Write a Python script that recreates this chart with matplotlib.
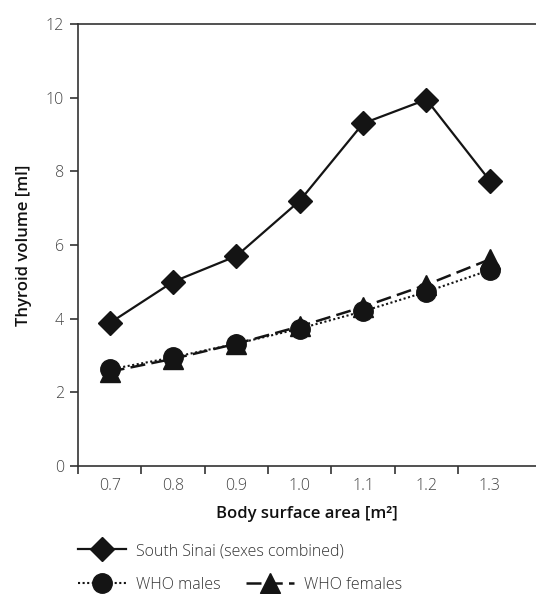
import matplotlib
matplotlib.use("Agg")
import matplotlib.pyplot as plt
from matplotlib.lines import Line2D

categories = ["0.7", "0.8", "0.9", "1.0", "1.1", "1.2", "1.3"]
south_sinai = [3.88, 5.0, 5.7, 7.2, 9.3, 9.95, 7.75]
who_males = [2.62, 2.95, 3.32, 3.73, 4.20, 4.73, 5.32]
who_females = [2.56, 2.91, 3.32, 3.79, 4.32, 4.92, 5.61]
y_ticks = [0, 2, 4, 6, 8, 10, 12]

plt.rcParams['font.family'] = ['Open Sans', 'DejaVu Sans']

W, H = 536, 594
fig = plt.figure(figsize=(W / 100, H / 100), dpi=100)
ax = fig.add_axes([78 / W, (H - 466) / H, 1 - 78 / W, (466 - 24) / H])

x = list(range(len(categories)))
ink = '#141414'
ax.plot(x, south_sinai, color=ink, lw=1.6, ls='-', marker='D', ms=12.5, zorder=3)
ax.plot(x, who_males, color=ink, lw=1.5, ls=(0, (1, 1.2)), marker='o', ms=14, zorder=3)
ax.plot(x, who_females, color=ink, lw=1.8, ls=(0, (6, 2.5)), marker='^', ms=15, zorder=2)

ax.set_ylim(0, 12)
ax.set_yticks(y_ticks)
ax.set_xlim(-0.5, 6.73)
ax.set_xticks(x)
ax.set_xticklabels(categories)
ax.set_xticks([i - 0.5 for i in range(len(categories))], minor=True)

spine_c = '#333333'
for s in ['left', 'bottom', 'top']:
    ax.spines[s].set_color(spine_c)
    ax.spines[s].set_linewidth(1.2)
ax.spines['right'].set_visible(False)

ax.tick_params(axis='x', which='major', length=0, pad=9, labelsize=11.5, labelcolor='#444444')
ax.tick_params(axis='x', which='minor', length=6, width=1.2, color=spine_c, direction='out')
ax.tick_params(axis='y', length=6, width=1.2, color=spine_c, labelsize=11.5, labelcolor='#444444', pad=4)
for lab in ax.get_xticklabels() + ax.get_yticklabels():
    lab.set_fontweight('light')

ax.set_xlabel("Body surface area [m²]", fontsize=12, fontweight='semibold', color='#111111', labelpad=8)
ax.set_ylabel("Thyroid volume [ml]", fontsize=12, fontweight='semibold', color='#111111', labelpad=10)

h1 = Line2D([], [], color=ink, lw=1.6, marker='D', ms=12.5)
h2 = Line2D([], [], color=ink, lw=1.5, ls=(0, (1, 1.2)), marker='o', ms=14)
h3 = Line2D([], [], color=ink, lw=1.8, ls=(0, (6, 2.5)), marker='^', ms=15)

leg1 = fig.legend([h1], ["South Sinai (sexes combined)"], loc='center left',
                  bbox_to_anchor=(72 / W, (H - 551) / H), frameon=False,
                  fontsize=11.5, handlelength=3.0, handletextpad=0.6, borderaxespad=0)
leg2 = fig.legend([h2, h3], ["WHO males", "WHO females"], loc='center left', ncol=2,
                  bbox_to_anchor=(72 / W, (H - 585) / H), frameon=False,
                  fontsize=11.5, handlelength=3.0, handletextpad=0.6, columnspacing=1.6,
                  borderaxespad=0)
for leg in (leg1, leg2):
    for t in leg.get_texts():
        t.set_color('#333333')
        t.set_fontweight('light')

fig.savefig("out.png", dpi=100)
